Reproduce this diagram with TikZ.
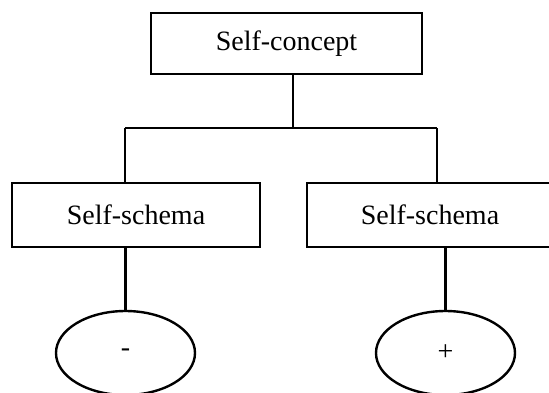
\documentclass[tikz,border=0pt]{standalone}
\usepackage{fontspec}
\setmainfont{Liberation Serif}
\usetikzlibrary{shapes.geometric}

\begin{document}
\begin{tikzpicture}[
    x=1pt, y=-1pt,
    conceptbox/.style={shape=rectangle, draw=black, line width=2.4pt, inner sep=0pt},
    signoval/.style={shape=ellipse, draw=black, line width=2.4pt, inner sep=0pt,
        minimum width=139pt, minimum height=84pt},
    link/.style={draw=black, line width=2.4pt},
    every node/.style={font=\fontsize{28}{32}\selectfont},
]
\useasboundingbox (0,0) rectangle (549,392);
\clip (0,0) rectangle (549,392);

\node[conceptbox, minimum width=271pt, minimum height=61pt] (concept) at (286.5, 43.5) {Self-concept};
\node[conceptbox, minimum width=248pt, minimum height=64pt] (schemaL) at (136, 215) {Self-schema};
\node[conceptbox, minimum width=246pt, minimum height=64pt] (schemaR) at (430, 215) {Self-schema};
\node[signoval] (negL) at (125.5, 353) {-};
\node[signoval] (posR) at (445.5, 353) {+};

\coordinate (split) at (293, 128);
\coordinate (splitL) at (125, 128);
\coordinate (splitR) at (437, 128);

\path[link]
    (concept.south -| split) -- (split)
    (splitL) -- (splitR)
    (splitL) -- (schemaL.north -| splitL)
    (splitR) -- (schemaR.north -| splitR)
    (schemaL.south -| negL) -- (negL.north)
    (schemaR.south -| posR) -- (posR.north)
;
\end{tikzpicture}
\end{document}
